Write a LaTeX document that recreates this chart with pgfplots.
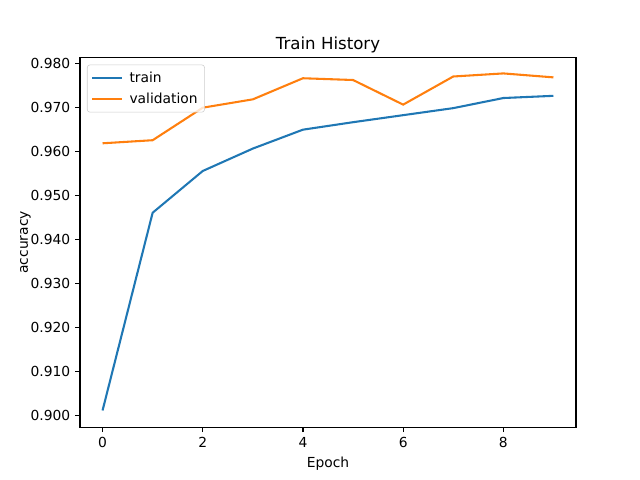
\documentclass[border=0pt]{standalone}
\usepackage{pgfplots}
\pgfplotsset{compat=1.18}
\usepackage{fontspec}
\setmainfont{DejaVu Sans}
\definecolor{tabblue}{HTML}{1F77B4}
\definecolor{taborange}{HTML}{FF7F0E}
\begin{document}
\begin{tikzpicture}
% figure canvas 6.4in x 4.8in, axes at matplotlib defaults
\path (-0.8in,-0.528in) rectangle (5.6in,4.272in);
\begin{axis}[
    at={(0,0)}, anchor=south west,
    scale only axis,
    width=4.96in, height=3.696in,
    xmin=-0.45, xmax=9.45,
    ymin=0.8973, ymax=0.9814,
    xtick={0,2,4,6,8},
    ytick={0.90,0.91,0.92,0.93,0.94,0.95,0.96,0.97,0.98},
    yticklabel style={/pgf/number format/.cd, fixed, fixed zerofill, precision=3},
    /pgf/number format/assume math mode=true,
    tick align=outside,
    tick pos=left,
    major tick length=3.5pt,
    tick label style={font=\fontsize{10}{12}\selectfont},
    label style={font=\fontsize{10}{12}\selectfont},
    title style={font=\fontsize{12}{14}\selectfont, yshift=-6pt},
    ylabel style={yshift=-7pt},
    title={Train History},
    xlabel={Epoch},
    ylabel={accuracy},
    axis line style={line width=0.8pt},
    every tick/.style={black, line width=0.8pt},
    legend cell align=left,
    legend image code/.code={\draw[#1] (0cm,0cm) -- (0.74cm,0cm);},
    legend style={at={(0.014,0.981)}, anchor=north west, font=\fontsize{10}{12}\selectfont,
      draw=black!20, rounded corners=2pt, fill=white, fill opacity=0.8, text opacity=1,
      inner sep=3pt, column sep=3pt, row sep=2pt},
]
\addplot[tabblue, line width=1.5pt] coordinates {
  (0,0.9011)(1,0.9461)(2,0.9556)(3,0.9607)(4,0.9650)(5,0.9667)(6,0.9683)(7,0.9699)(8,0.9722)(9,0.9727)
};
\addlegendentry{train}
\addplot[taborange, line width=1.5pt] coordinates {
  (0,0.9619)(1,0.9626)(2,0.9700)(3,0.9719)(4,0.9767)(5,0.9763)(6,0.9707)(7,0.9771)(8,0.9778)(9,0.9769)
};
\addlegendentry{validation}
\end{axis}
\end{tikzpicture}
\end{document}
